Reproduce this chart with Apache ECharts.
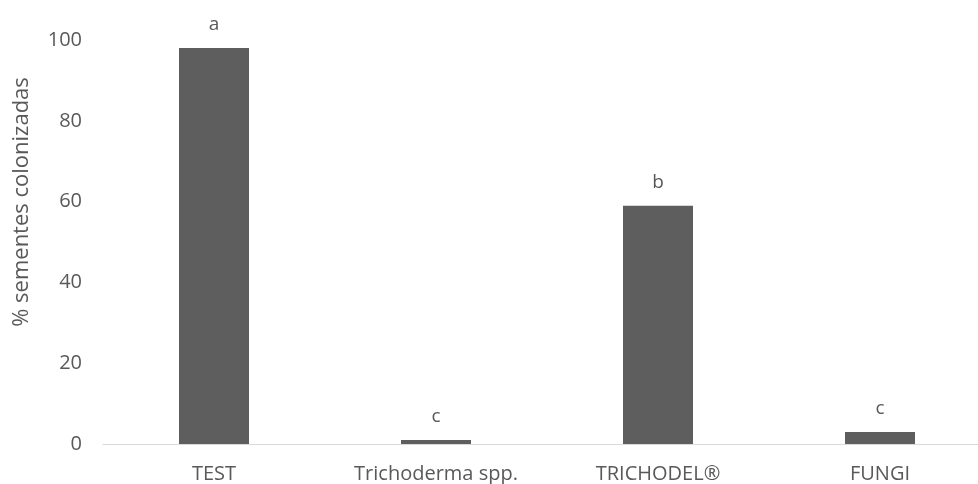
<!DOCTYPE html>
<html>
<head>
<meta charset="utf-8">
<script src="https://cdn.jsdelivr.net/npm/echarts@6/dist/echarts.min.js"></script>
<style>html,body{margin:0;padding:0;background:#fff;overflow:hidden;width:978px;height:484px;}#c{width:991px;height:484px;}</style>
</head>
<body>
<div id="c"></div>
<script>
var categories = ['TEST', 'Trichoderma spp.', 'TRICHODEL®', 'FUNGI'];
var values = [98, 1, 59, 3];
var letters = ['a', 'c', 'b', 'c'];
var yTicks = { min: 0, max: 100, interval: 20 };
var yName = '% sementes colonizadas';

var FONT = '"Open Sans", "Noto Sans", sans-serif';
var TXT = '#595959';
var chart = echarts.init(document.getElementById('c'), null, { renderer: 'canvas' });
chart.setOption({
  animation: false,
  backgroundColor: '#ffffff',
  grid: { left: 103, right: 0, top: 40, bottom: 40, containLabel: false },
  xAxis: {
    type: 'category',
    data: categories,
    axisLine: { show: true, lineStyle: { color: '#d9d9d9', width: 1 } },
    axisTick: { show: false },
    axisLabel: { color: TXT, fontSize: 20, fontFamily: FONT, margin: 20 }
  },
  yAxis: {
    type: 'value',
    min: yTicks.min, max: yTicks.max, interval: yTicks.interval,
    axisLine: { show: false },
    axisTick: { show: false },
    splitLine: { show: false },
    axisLabel: { color: TXT, fontSize: 20, fontFamily: FONT, margin: 21 }
  },
  graphic: [{
    type: 'text',
    x: 22, y: 202,
    rotation: Math.PI / 2,
    style: { text: yName, fill: TXT, font: '22px ' + FONT, textAlign: 'center', textVerticalAlign: 'middle' }
  }],
  series: [{
    type: 'bar',
    data: values,
    barWidth: 70,
    itemStyle: { color: '#5e5e5e' },
    label: {
      show: true,
      position: 'top',
      distance: 14,
      color: TXT,
      fontSize: 19,
      fontFamily: FONT,
      formatter: function (p) { return letters[p.dataIndex]; }
    }
  }]
});
</script>
</body>
</html>
